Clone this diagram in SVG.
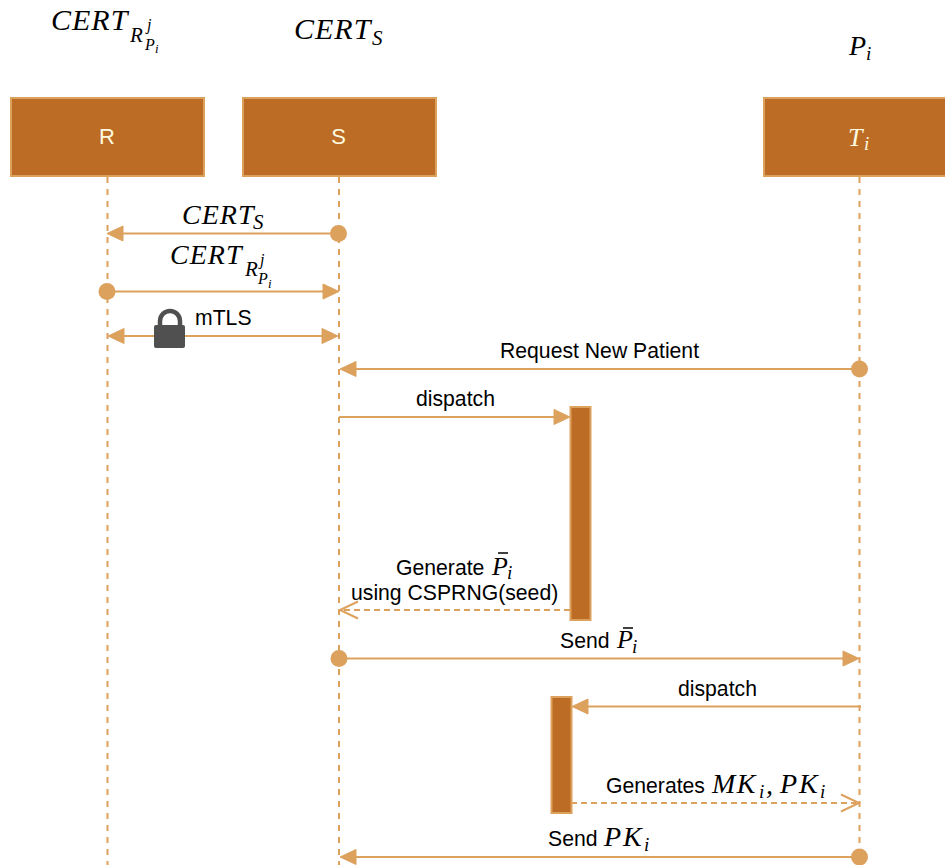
<svg xmlns="http://www.w3.org/2000/svg" width="945" height="865" viewBox="0 0 945 865">
<style>
.box{fill:#BC6C25;stroke:#DDA15E;stroke-width:2}
.life{fill:none;stroke:#DDA15E;stroke-width:2;stroke-dasharray:6 6}
.msg{fill:none;stroke:#DDA15E;stroke-width:2}
.ret{fill:none;stroke:#DDA15E;stroke-width:2;stroke-dasharray:6 4}
.dot{fill:#DDA15E}
.head{fill:#DDA15E;stroke:#DDA15E}
.open{fill:none;stroke:#DDA15E;stroke-width:2}
text{font-family:"Liberation Sans",Arial,sans-serif;font-size:21.2px;fill:#000}
.nm{font-size:22px;fill:#FEFAE0;text-anchor:middle}
.m{font-family:"Liberation Serif","Times New Roman",serif;font-style:italic;font-size:30px}
.m2{font-size:28px}
.c{letter-spacing:1px}
.s{font-family:"Liberation Serif","Times New Roman",serif;font-style:italic;font-size:21px}
.t{font-family:"Liberation Serif","Times New Roman",serif;font-style:italic;font-size:16px}
.u{font-family:"Liberation Serif","Times New Roman",serif;font-style:italic;font-size:13px}
.mw{fill:#FEFAE0}
</style>
<g id="connectors">
<path class="life" d="M107.500 177V865"/>
<path class="life" d="M339 177V865"/>
<path class="life" d="M859.500 177V865"/>
<path class="msg" d="M338 233.500H120"/><path class="head" d="M107 233.500l16-7.500v15z"/><circle class="dot" cx="338.500" cy="233.500" r="8.500"/>
<path class="msg" d="M107 291.500H325"/><path class="head" d="M339 291.500l-16-7.500v15z"/><circle class="dot" cx="107" cy="291.500" r="8.500"/>
<path class="msg" d="M122 336H325"/><path class="head" d="M108 336l16-7.500v15z"/><path class="head" d="M338 336l-16-7.500v15z"/>
<path class="msg" d="M859 369H353"/><path class="head" d="M340 369l16-7.500v15z"/><circle class="dot" cx="859.500" cy="369" r="8.500"/>
<path class="msg" d="M339 417H557"/><path class="head" d="M570 417l-16-7.500v15z"/>
<path class="ret" d="M570 610H342"/><path class="open" d="M358 601.500L340 610L358 618.500"/>
<path class="msg" d="M339 658.500H845"/><path class="head" d="M859 658.500l-16-7.500v15z"/><circle class="dot" cx="339" cy="658.500" r="8.500"/>
<path class="msg" d="M861 706.500H585"/><path class="head" d="M572 706.500l16-7.500v15z"/>
<path class="ret" d="M571 803H856"/><path class="open" d="M841 794.500L859 803L841 811.500"/>
<path class="msg" d="M859 857H353"/><path class="head" d="M340 857l16-7.500v15z"/><circle class="dot" cx="859.500" cy="857" r="8.500"/>
</g>
<g id="node-R"><rect class="box" x="11" y="98" width="193" height="78"/><text class="nm" x="107" y="144">R</text></g>
<g id="node-S"><rect class="box" x="243" y="98" width="193" height="78"/><text class="nm" x="338.500" y="144">S</text></g>
<g id="node-T"><rect class="box" x="764" y="98" width="192" height="78"/><text class="m m2 mw" x="848" y="146" style="font-size:26px">T</text><text class="s mw" x="864" y="150" style="font-size:19px">i</text></g>
<g id="activation-1"><rect class="box" x="570.500" y="407" width="20" height="213"/></g>
<g id="activation-2"><rect class="box" x="551.500" y="697" width="20" height="116"/></g>
<g id="lock"><path d="M160 326v-5a10 10 0 0 1 20 0v5" fill="none" stroke="#505050" stroke-width="4.500"/><rect x="154" y="325" width="31" height="23" rx="2" fill="#505050"/></g>
<g id="labels">
<text class="m c" x="51" y="30">CERT</text><text class="s" x="130" y="42">R</text><text class="t" x="147" y="30">j</text><text class="t" x="145" y="50">P</text><text class="u" x="155" y="53">i</text>
<text class="m c" x="294" y="39">CERT</text><text class="s" x="372" y="45">S</text>
<text class="m m2" x="849" y="55">P</text><text class="s" x="866" y="60" style="font-size:19px">i</text>
<text class="m m2 c" x="182" y="224">CERT</text><text class="s" x="253" y="229">S</text>
<text class="m m2 c" x="170" y="264">CERT</text><text class="s" x="245" y="276">R</text><text class="t" x="260" y="265">j</text><text class="t" x="258" y="284">P</text><text class="u" x="268" y="288">i</text>
<text x="195" y="325">mTLS</text>
<text x="500" y="358">Request New Patient</text>
<text x="416" y="406">dispatch</text>
<text x="396" y="575">Generate</text><text class="m" x="492" y="575" style="font-size:26px">P</text><path d="M498 553h10" stroke="#000" stroke-width="1.500"/><text class="s" x="507" y="579" style="font-size:19px">i</text>
<text x="351" y="600">using CSPRNG(seed)</text>
<text x="560" y="648">Send</text><text class="m" x="617" y="648" style="font-size:26px">P</text><path d="M623 628h10" stroke="#000" stroke-width="1.500"/><text class="s" x="632" y="653" style="font-size:19px">i</text>
<text x="678" y="696">dispatch</text>
<text x="606" y="793">Generates</text><text class="m m2" x="712" y="793" style="letter-spacing:1.500px">MK</text><text class="s" x="759" y="798" style="font-size:19px">i</text><text class="m m2" x="766" y="794">,</text><text class="m m2" x="780" y="793" style="letter-spacing:2px">PK</text><text class="s" x="820" y="798" style="font-size:19px">i</text>
<text x="548" y="846">Send</text><text class="m m2" x="604" y="846" style="letter-spacing:2px">PK</text><text class="s" x="644" y="851" style="font-size:19px">i</text>
</g>
</svg>
